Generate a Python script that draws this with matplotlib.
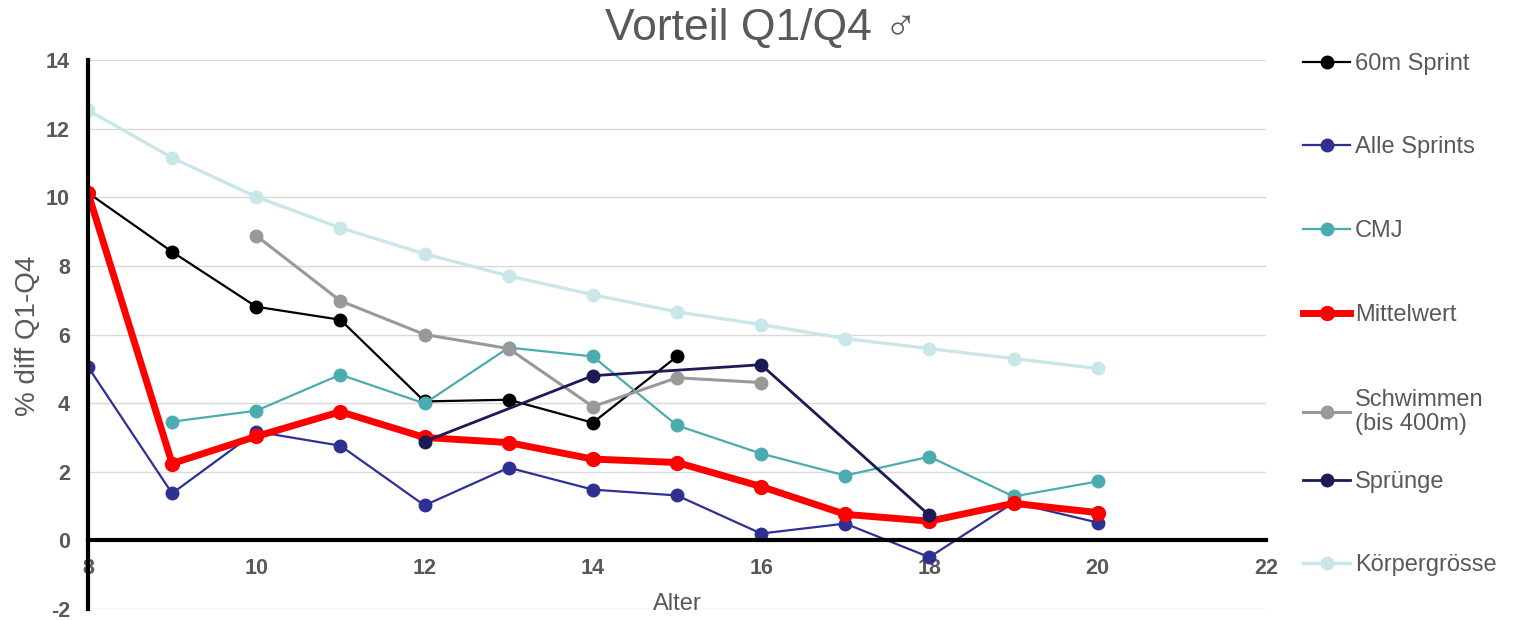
import matplotlib.pyplot as plt

# Alter (x) und Werte pro Serie
alter_60m = [8, 9, 10, 11, 12, 13, 14, 15]
sprint_60m = [10.13, 8.41, 6.81, 6.43, 4.05, 4.10, 3.43, 5.36]

alter_alle = [8, 9, 10, 11, 12, 13, 14, 15, 16, 17, 18, 19, 20]
alle_sprints = [5.06, 1.37, 3.17, 2.76, 1.02, 2.12, 1.48, 1.31, 0.20, 0.49, -0.49, 1.10, 0.52]

alter_cmj = [9, 10, 11, 12, 13, 14, 15, 16, 17, 18, 19, 20]
cmj = [3.46, 3.78, 4.83, 3.99, 5.62, 5.36, 3.35, 2.53, 1.89, 2.44, 1.28, 1.72]

alter_mittel = [8, 9, 10, 11, 12, 13, 14, 15, 16, 17, 18, 19, 20]
mittelwert = [10.13, 2.24, 3.03, 3.75, 3.00, 2.85, 2.37, 2.27, 1.57, 0.76, 0.56, 1.08, 0.81]

alter_schwimmen = [10, 11, 12, 13, 14, 15, 16]
schwimmen = [8.88, 6.98, 6.00, 5.59, 3.90, 4.74, 4.60]

alter_spruenge = [12, 14, 16, 18]
spruenge = [2.88, 4.80, 5.12, 0.73]

alter_groesse = [8, 9, 10, 11, 12, 13, 14, 15, 16, 17, 18, 19, 20]
koerpergroesse = [12.54, 11.15, 10.01, 9.11, 8.35, 7.71, 7.16, 6.66, 6.29, 5.88, 5.59, 5.30, 5.01]

plt.rcParams['font.family'] = ['Liberation Sans', 'DejaVu Sans']
plt.rcParams['axes.unicode_minus'] = False
grau = '#595959'

fig = plt.figure(figsize=(15.22, 6.2), dpi=100)
ax = fig.add_axes([0.0578, 0.0177, 0.7740, 0.8855])

linien = []
linien += ax.plot(alter_60m, sprint_60m, color='black', lw=1.6, marker='o', ms=9, label='60m Sprint')
linien += ax.plot(alter_alle, alle_sprints, color='#2E3192', lw=1.6, marker='o', ms=9, label='Alle Sprints')
linien += ax.plot(alter_cmj, cmj, color='#4BACB0', lw=1.6, marker='o', ms=9, label='CMJ')
linien += ax.plot(alter_mittel, mittelwert, color='#FF0000', lw=5, marker='o', ms=10, label='Mittelwert')
linien += ax.plot(alter_schwimmen, schwimmen, color='#999999', lw=2.2, marker='o', ms=9, label='Schwimmen\n(bis 400m)')
linien += ax.plot(alter_spruenge, spruenge, color='#1B1B55', lw=2, marker='o', ms=9, label='Sprünge')
linien += ax.plot(alter_groesse, koerpergroesse, color='#C9E6E8', lw=2.4, marker='o', ms=9, label='Körpergrösse')

ax.set_xlim(8, 22)
ax.set_ylim(-2, 14)
ax.set_xticks(range(8, 23, 2))
ax.set_yticks(range(-2, 15, 2))
ax.grid(axis='y', color='#D9D9D9', lw=1)
ax.set_axisbelow(True)

ax.spines['top'].set_visible(False)
ax.spines['right'].set_visible(False)
ax.spines['bottom'].set_position(('data', 0))
ax.spines['bottom'].set_linewidth(3)
ax.spines['left'].set_linewidth(3)
ax.tick_params(length=0)
ax.tick_params(axis='x', pad=13)
ax.tick_params(axis='y', pad=13)
for lab in ax.get_xticklabels() + ax.get_yticklabels():
    lab.set_fontsize(15.5)
    lab.set_fontweight('bold')
    lab.set_color(grau)

fig.text(28 / 1522, 1 - 336 / 620, '% diff Q1-Q4', fontsize=20, color=grau,
         rotation=90, ha='center', va='center')
fig.text(677 / 1522, 1 - 604 / 620, 'Alter', fontsize=17, color=grau, ha='center', va='center')

fig.text(0.5, 1 - 28 / 620, 'Vorteil Q1/Q4 ♂', fontsize=32, color=grau, ha='center', va='center')

# Legende: ein Eintrag pro Zeile, Abstände wie im Original
leg_y = [64, 147, 231, 315, 412, 482, 565]
for linie, y in zip(linien, leg_y):
    leg = fig.legend(handles=[linie], labels=[linie.get_label()], loc='center left',
                     bbox_to_anchor=(1303 / 1522, 1 - y / 620), frameon=False,
                     fontsize=17, borderpad=0, borderaxespad=0,
                     handlelength=2.0, handletextpad=0.2)
    for t in leg.get_texts():
        t.set_color(grau)
        t.set_linespacing(1.1)

fig.savefig('out.png', dpi=100)
